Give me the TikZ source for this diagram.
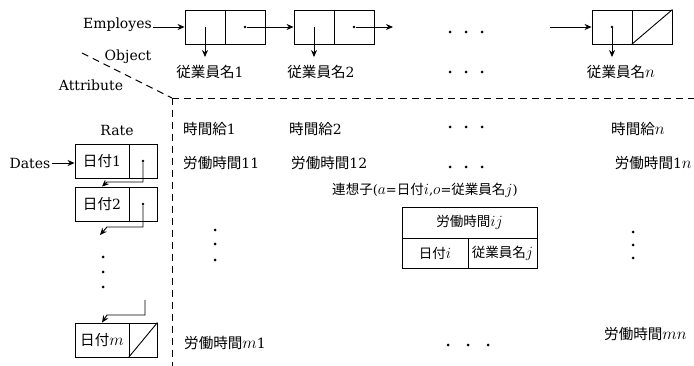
\RequirePackage{fix-cm}
\documentclass[tikz,border=0pt]{standalone}
\usepackage{fontspec}
\usepackage{graphicx}
\setmainfont{DejaVu Serif}
\newfontfamily\jp[Scale=1.04]{Noto Sans CJK JP}
\usetikzlibrary{arrows.meta}
\newcommand\J[1]{{\jp #1}}
\newcommand\mi[1]{\scalebox{1.2}{$#1$}}
\begin{document}
\begin{tikzpicture}[x=1pt,y=-1pt,
  every node/.style={font=\fontsize{14}{17}\selectfont, inner sep=1pt},
  cell/.style={draw, line width=0.9pt, minimum width=40pt, minimum height=34pt, inner sep=0pt},
  lcell/.style={cell, minimum width=54pt},
  rcell/.style={cell, minimum width=28pt},
  tcell/.style={draw, line width=0.9pt, inner sep=0pt, font=\fontsize{13}{16}\selectfont},
  arr/.style={line width=0.9pt, -{Stealth[length=7pt,width=6pt]}},
  ptr/.style={fill, circle, inner sep=0pt, minimum size=2.6pt},
  dot/.style={fill, circle, inner sep=0pt, minimum size=3pt},
  dsh/.style={line width=0.9pt, dash pattern=on 7pt off 5pt},
  lbl/.style={anchor=west}]
\useasboundingbox (0,0) rectangle (694,366);

% ---- top list: Employes ----
\node[cell] (e1a) at (205,27) {};
\node[cell] (e1b) at (245,27) {};
\node[cell] (e2a) at (314,27) {};
\node[cell] (e2b) at (354,27) {};
\node[cell] (ena) at (612,27) {};
\node[cell] (enb) at (652,27) {};
\draw[line width=0.9pt] (enb.south west) -- (enb.north east);

\node[anchor=east] (emp) at (153,25) {Employes};
\draw[arr] (emp.east |- e1a.west) -- (e1a.west);

\node[ptr] (p1) at (e1b.center) {};
\draw[arr] (p1) -- (e2a.west);
\node[ptr] (p2) at (e2b.center) {};
\coordinate (p2e) at (393,27);
\draw[arr] (p2) -- (p2e);
\coordinate (pns) at (550,27);
\draw[arr] (pns) -- (ena.west);

\node (n1) at (210,72) {\J{従業員名}1};
\node (n2) at (321,72) {\J{従業員名}2};
\node (nn) at (621,72) {\J{従業員名}\mi{n}};
\node[ptr] (pn) at (ena.center) {};
\draw[arr, shorten >=7pt] (e1a.center) -- (e1a.center |- n1.north);
\draw[arr, shorten >=7pt] (e2a.center) -- (e2a.center |- n2.north);
\draw[arr, shorten >=7pt] (pn) -- (pn |- nn.north);

% ---- labels on the left ----
\node (obj) at (128,57) {Object};
\node (att) at (91,85) {Attribute};
\node (rate) at (117,130) {Rate};

% ---- dashed separators ----
\coordinate (dA) at (82,53);
\coordinate (dC) at (172,98);
\coordinate (dR) at (694,98);
\coordinate (dB) at (172,366);
\draw[dsh] (dA) -- (dC);
\draw[dsh] (dC) -- (dR);
\draw[dsh] (dC) -- (dB);

% ---- left list: Dates ----
\node[lcell] (d1a) at (102,161) {\J{日付}1};
\node[rcell] (d1b) at (143,161) {};
\node[lcell] (d2a) at (102,204) {\J{日付}2};
\node[rcell] (d2b) at (143,204) {};
\node[lcell] (dma) at (102,340) {\J{日付}\mi{m}};
\node[rcell] (dmb) at (143,340) {};
\draw[line width=0.9pt] (dmb.south west) -- (dmb.north east);

\node (dates) at (30,163) {Dates};
\draw[arr] (dates.east) -- (dates.east -| d1a.west);

\node[ptr] (q1) at (d1b.center) {};
\draw[arr] (q1) -- ++(0,21) -- ++(-36,0) -- (d2a.north);
\node[ptr] (q2) at (d2b.center) {};
\coordinate (c2e) at (100,235);
\draw[arr] (q2) -- ++(0,23) -- ++(-36,0) -- (c2e);
\coordinate (qm) at (145,300);
\draw[arr] (qm) -- ++(0,15) -- ++(-38,0) -- (dma.north);

% ---- matrix labels ----
\node[lbl] (r1) at (182,129) {\J{時間給}1};
\node[lbl] (r2) at (288,129) {\J{時間給}2};
\node[lbl] (rn) at (610,129) {\J{時間給}\mi{n}};
\node[lbl] (w11) at (182,163) {\J{労働時間}11};
\node[lbl] (w12) at (290,163) {\J{労働時間}12};
\node[anchor=east] (w1n) at (693,163) {\J{労働時間}1\mi{n}};
\node[font=\fontsize{13}{16}\selectfont] (assoc) at (425,190) {\J{連想子}(\mi{a}=\J{日付}\mi{i},\mi{o}=\J{従業員名}\mi{j})};
\node[tcell, minimum width=135pt, minimum height=31pt] (tt) at (469.5,222.5) {\J{労働時間}\mi{ij}};
\node[tcell, minimum width=66pt, minimum height=30pt] (tl) at (435,253) {\J{日付}\mi{i}};
\node[tcell, minimum width=69pt, minimum height=30pt] (tr) at (502.5,253) {\J{従業員名}\mi{j}};
\node[lbl] (wm1) at (183,343) {\J{労働時間}\mi{m}1};
\node[lbl] (wmn) at (603,334) {\J{労働時間}\mi{mn}};

% ---- ellipsis dots ----
\foreach \y/\n in {32/a,72/b,127/c,167/d}
  \foreach \x/\m in {450/1,466/2,482/3}
    \node[dot] (h\n\m) at (\x,\y) {};
\foreach \x/\m in {448/1,468/2,488/3} \node[dot] (he\m) at (\x,345) {};
\foreach \y/\m in {257/1,272/2,287/3} \node[dot] (vl\m) at (103,\y) {};
\foreach \y/\m in {230/1,244/2,260/3} \node[dot] (vc\m) at (215,\y) {};
\foreach \y/\m in {232/1,245/2,258/3} \node[dot] (vr\m) at (633,\y) {};
\end{tikzpicture}
\end{document}
